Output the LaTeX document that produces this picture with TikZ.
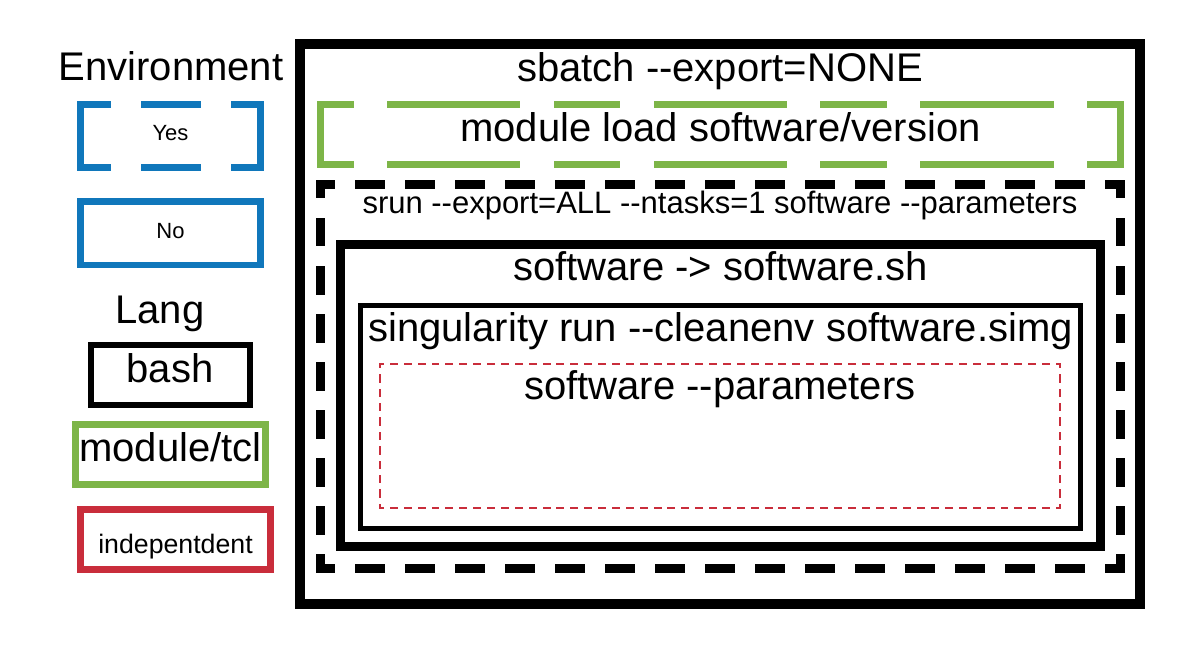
\documentclass[tikz,border=0pt]{standalone}
\usepackage{fontspec}
\setmainfont{Liberation Sans}[Ligatures=TeXOff]
\usepackage{tikz}
\definecolor{envblue}{HTML}{1077BB}
\definecolor{modgreen}{HTML}{7DB548}
\definecolor{indred}{HTML}{C92D3B}
% one side of a box, dashes stretched so both ends stop on half a dash
\def\fitdash[#1](#2,#3)(#4,#5)#6#7#8{%
	\pgfmathsetmacro\sidelen{veclen(#4-#2,#5-#3)}%
	\pgfmathsetmacro\nper{max(1,round(\sidelen/(#6+#7)))}%
	\pgfmathsetmacro\sfac{\sidelen/(\nper*(#6+#7))}%
	\pgfmathsetmacro\onlen{\sfac*#6-#8}%
	\pgfmathsetmacro\offlen{\sfac*#7+#8}%
	\pgfmathsetmacro\phlen{\onlen/2}%
	\draw[#1, line width=#8pt, line cap=rect, dash pattern=on \onlen pt off \offlen pt, dash phase=\phlen pt] (#2,#3) -- (#4,#5);}
\tikzset{
	lbl/.style={font=\fontsize{40}{48}\selectfont, inner sep=0pt, anchor=base},
	lblmid/.style={lbl, font=\fontsize{31}{37}\selectfont},
	lblsmall/.style={lbl, font=\fontsize{22}{26}\selectfont},
	lblind/.style={lbl, font=\fontsize{26.7}{32}\selectfont},
	greendash/.style={modgreen, line width=6.5pt, line cap=rect, dash pattern=on 126.83pt off 39.83pt on 60.17pt off 39.83pt, dash phase=196.75pt},
}

\begin{document}
\begin{tikzpicture}[x=1pt, y=-1pt]
			%%%%% START %%%%%
			\useasboundingbox (0, 0) rectangle (1180, 645);
			
			% legend
			\node[lbl] (envtitle) at (171, 80) {Environment};
			
			\fitdash[envblue](80.5, 104.5)(260.5, 104.5){60}{30}{6.7}
			\fitdash[envblue](260.5, 167.5)(80.5, 167.5){60}{30}{6.7}
			\draw[envblue, line width=6.7pt, line cap=rect] (80.5, 104.5) -- (80.5, 167.5);
			\draw[envblue, line width=6.7pt, line cap=rect] (260.5, 104.5) -- (260.5, 167.5);
			\node[lblsmall] (envyes) at (170.5, 140) {Yes};
			
			\draw[envblue, line width=6.7pt] (80.5, 201.5) rectangle (260.5, 265);
			\node[lblsmall] (envno) at (170.5, 238) {No};
			
			\node[lbl] (langtitle) at (160, 323) {Lang};
			
			\draw[line width=6pt] (90.5, 345) rectangle (250, 405);
			\node[lbl] (langbash) at (170, 382.5) {bash};
			
			\draw[modgreen, line width=6.7pt] (75.5, 424.5) rectangle (265.5, 484.5);
			\node[lbl] (langmod) at (170.5, 461.5) {module/tcl};
			
			\draw[indred, line width=6.7pt] (80.5, 509.5) rectangle (270.5, 569.5);
			\node[lblind] (langind) at (175.5, 553) {indepentdent};
			
			% sbatch
			\draw[line width=10pt] (300, 44) rectangle (1140, 604);
			\node[lbl] (sbatch) at (720, 81.5) {sbatch --export=NONE};
			
			% module load
			\draw[greendash] (320.5, 104.5) -- (1120.5, 104.5);
			\draw[greendash] (320.5, 164.5) -- (1120.5, 164.5);
			\draw[modgreen, line width=6.5pt, line cap=rect] (320.5, 104.5) -- (320.5, 164.5);
			\draw[modgreen, line width=6.5pt, line cap=rect] (1120.5, 104.5) -- (1120.5, 164.5);
			\node[lbl] (modload) at (720.5, 141.5) {module load software/version};
			
			% srun
			\fitdash[black](320.5, 184)(1120, 184){30}{20}{9}
			\fitdash[black](1120, 184)(1120, 568.5){30}{20}{9}
			\fitdash[black](1120, 568.5)(320.5, 568.5){30}{20}{9}
			\fitdash[black](320.5, 568.5)(320.5, 184){30}{20}{9}
			\node[lblmid] (srun) at (720, 213) {srun --export=ALL --ntasks=1 software --parameters};
			
			% wrapper script
			\draw[line width=9pt] (340.5, 244.5) rectangle (1100.5, 546.5);
			\node[lbl] (wrapper) at (720.5, 280) {software -> software.sh};
			
			% container
			\draw[line width=5.5pt] (360.5, 305.5) rectangle (1080.5, 528.5);
			\node[lbl] (container) at (720.5, 341) {singularity run --cleanenv software.simg};
			
			% program
			\fitdash[indred](380, 364)(1060, 364){8}{6}{2}
			\fitdash[indred](1060, 364)(1060, 508){8}{6}{2}
			\fitdash[indred](1060, 508)(380, 508){8}{6}{2}
			\fitdash[indred](380, 508)(380, 364){8}{6}{2}
			\node[lbl] (program) at (720, 399) {software --parameters};
			
			%%%%% END %%%%%
		\end{tikzpicture}
\end{document}
